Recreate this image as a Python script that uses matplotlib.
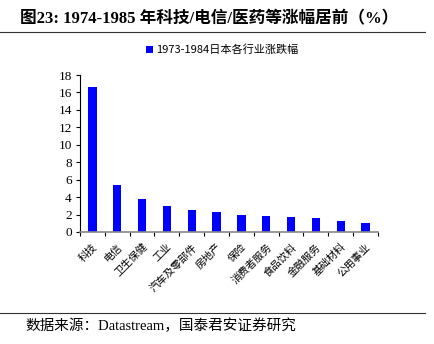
import matplotlib
matplotlib.use("Agg")
import matplotlib.pyplot as plt
import numpy as np
from matplotlib.lines import Line2D

categories = ["科技", "电信", "卫生保健", "工业", "汽车及零部件", "房地产", "保险",
              "消费者服务", "食品饮料", "金融服务", "基础材料", "公用事业"]
values = [16.6, 5.4, 3.8, 3.0, 2.5, 2.26, 2.0, 1.84, 1.69, 1.65, 1.23, 1.0]
series_name = "1973-1984日本各行业涨跌幅"
yticks = [0, 2, 4, 6, 8, 10, 12, 14, 16, 18]

CJK = "Noto Sans CJK SC"
SERIF = "Liberation Serif"

fig = plt.figure(figsize=(4.35, 3.44), dpi=100)
ax = fig.add_axes([80/435, 1-232/344, 298/435, 157/344])

x = np.arange(len(categories))
ax.bar(x, values, width=0.33, color="#0000FF", label=series_name)
ax.set_xlim(-0.5, len(categories)-0.5)
ax.set_ylim(0, 18)
ax.set_yticks(yticks)
ax.set_yticklabels([str(v) for v in yticks], family=SERIF, fontsize=9.5)
ax.set_xticks(x)
ax.set_xticklabels(categories, rotation=45, ha="right", va="top", family=[CJK],
                   fontsize=7.5, rotation_mode="anchor")
ax.set_xticks(np.arange(-0.5, len(categories)), minor=True)
ax.tick_params(axis="x", which="major", length=0, pad=7)
ax.tick_params(axis="x", which="minor", length=3, direction="out", color="black", width=0.8)
ax.tick_params(axis="y", length=3, direction="out", width=0.8, pad=3)
for s in ["top", "right"]:
    ax.spines[s].set_visible(False)
ax.spines["bottom"].set_color("#888888")
ax.spines["bottom"].set_linewidth(1.2)
ax.spines["left"].set_linewidth(0.8)

fig.legend(loc="center", bbox_to_anchor=(222/435, 1-50/344), frameon=False,
           prop={"family": [CJK], "size": 8}, handlelength=0.6, handleheight=0.6,
           handletextpad=0.3)

fig.text(20/435, 1-19/344, "图23: 1974-1985 年科技/电信/医药等涨幅居前（%）",
         family=[SERIF, CJK], fontsize=12, fontweight="bold", va="center", ha="left")
fig.add_artist(Line2D([0, 425/435], [1-32/344, 1-32/344], color="#333333", lw=0.8,
                      transform=fig.transFigure))
fig.add_artist(Line2D([0, 425/435], [1-313/344, 1-313/344], color="#333333", lw=0.8,
                      transform=fig.transFigure))
fig.text(25/435, 1-326/344, "数据来源：Datastream，国泰君安证券研究",
         family=[SERIF, CJK], fontsize=10.5, va="center", ha="left")

fig.savefig("out.png", dpi=100)
